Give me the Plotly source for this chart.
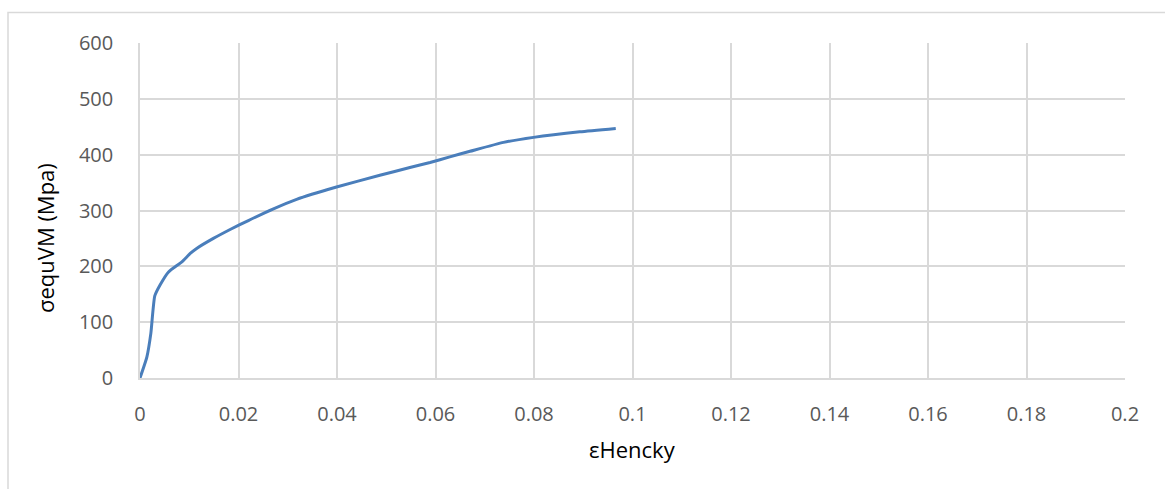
import plotly.graph_objects as go

# Hencky strain vs. von Mises equivalent stress
strain = [0.0, 0.0014, 0.0022, 0.0030, 0.0041, 0.0058, 0.0085, 0.0102, 0.0115,
          0.0149, 0.0183, 0.0220, 0.0271, 0.0318, 0.0399, 0.0487, 0.0548,
          0.0589, 0.0629, 0.0670, 0.0738, 0.0799, 0.0893, 0.0966]
stress = [0, 38, 80, 147, 167, 190, 208, 223, 232,
          250, 266, 282, 303, 320, 342, 363, 377,
          386, 396, 406, 422, 431, 441, 447]

x_ticks = [0, 0.02, 0.04, 0.06, 0.08, 0.1, 0.12, 0.14, 0.16, 0.18, 0.2]
x_tick_text = ["0", "0.02", "0.04", "0.06", "0.08", "0.1", "0.12", "0.14", "0.16", "0.18", "0.2"]
y_ticks = [0, 100, 200, 300, 400, 500, 600]

FONT = "Open Sans"
TICK_COLOR = "#595959"
GRID = "#d9d9d9"

W, H = 1165, 489
L, R, T, B = 140, 40, 43, 111

fig = go.Figure()
fig.add_trace(go.Scatter(
    x=strain, y=stress, mode="lines",
    line=dict(color="#4a7ebb", width=3, shape="spline", smoothing=0.5),
    showlegend=False, hoverinfo="skip",
))

fig.update_xaxes(
    range=[0, 0.2], tickvals=x_ticks, ticktext=x_tick_text,
    showgrid=True, gridcolor=GRID, gridwidth=1.5,
    showline=True, linecolor=GRID, linewidth=1.5, mirror=False,
    zeroline=False, ticks="", ticklabelstandoff=17,
    tickfont=dict(family=FONT, size=20, color=TICK_COLOR),
)
fig.update_yaxes(
    range=[0, 600], tickvals=y_ticks,
    showgrid=True, gridcolor=GRID, gridwidth=1.5,
    showline=True, linecolor=GRID, linewidth=1.5,
    zeroline=False, ticks="", ticklabelstandoff=21,
    tickfont=dict(family=FONT, size=20, color=TICK_COLOR),
)

pw, ph = W - L - R, H - T - B

def px_to_paper_x(px):
    return (px - L) / pw

def px_to_paper_y(py):
    return (H - B - py) / ph

fig.update_layout(
    width=W, height=H,
    margin=dict(l=L, r=R, t=T, b=B, pad=0),
    paper_bgcolor="white", plot_bgcolor="white",
    annotations=[
        dict(text="εHencky", x=px_to_paper_x(632), y=px_to_paper_y(449),
             xref="paper", yref="paper", showarrow=False,
             xanchor="center", yanchor="middle",
             font=dict(family=FONT, size=22, color="#000000")),
        dict(text="σequVM (Mpa)", x=px_to_paper_x(45), y=px_to_paper_y(238),
             xref="paper", yref="paper", showarrow=False, textangle=-90,
             xanchor="center", yanchor="middle",
             font=dict(family=FONT, size=22, color="#000000")),
    ],
    shapes=[
        dict(type="rect", xref="paper", yref="paper",
             x0=px_to_paper_x(8), x1=px_to_paper_x(1175),
             y0=px_to_paper_y(500), y1=px_to_paper_y(12.5),
             line=dict(color="#d9d9d9", width=1.5), layer="below"),
    ],
)

fig.write_html("out.html")
